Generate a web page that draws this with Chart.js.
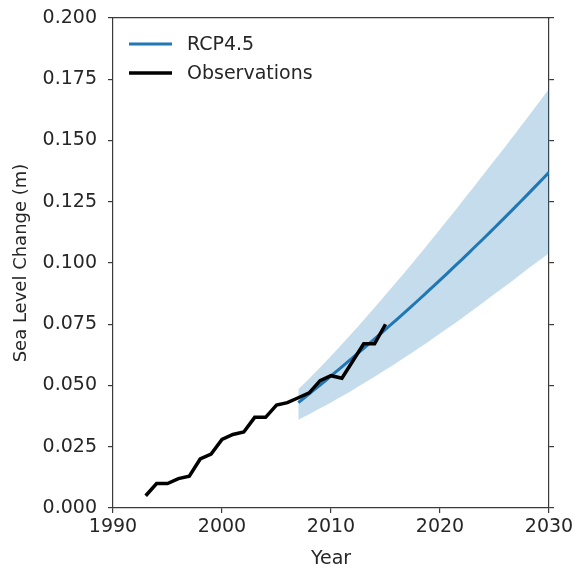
<!DOCTYPE html>
<html>
<head>
<meta charset="utf-8">
<script src="https://cdn.jsdelivr.net/npm/chart.js@4"></script>
<style>
  html, body { margin: 0; padding: 0; background: #fff; }
  #wrap { width: 574px; height: 570px; }
</style>
</head>
<body>
<div id="wrap"><canvas id="slrChart" width="574" height="570"></canvas></div>
<script>
// observed sea level change (m), annual
const obsYears = [1993, 1994, 1995, 1996, 1997, 1998, 1999, 2000, 2001, 2002, 2003, 2004,
  2005, 2006, 2007, 2008, 2009, 2010, 2011, 2012, 2013, 2014, 2015];
const obsValues = [0.005, 0.010, 0.010, 0.012, 0.013, 0.020, 0.022, 0.028, 0.030, 0.031, 0.037, 0.037,
  0.042, 0.043, 0.045, 0.047, 0.052, 0.054, 0.053, 0.060, 0.067, 0.067, 0.075];

// RCP4.5 projection: median and spread
const rcpYears = [2007, 2008, 2009, 2010, 2011, 2012, 2013, 2014, 2015, 2016, 2017, 2018,
  2019, 2020, 2021, 2022, 2023, 2024, 2025, 2026, 2027, 2028, 2029, 2030];
const rcpMean = [0.0430, 0.0466, 0.0502, 0.0539, 0.0576, 0.0614, 0.0652, 0.0690, 0.0729, 0.0768,
  0.0808, 0.0848, 0.0889, 0.0930, 0.0972, 0.1014, 0.1057, 0.1100, 0.1144, 0.1188, 0.1233, 0.1278,
  0.1324, 0.1370];
const rcpUpper = [0.0485, 0.0528, 0.0573, 0.0620, 0.0668, 0.0717, 0.0767, 0.0818, 0.0870, 0.0922,
  0.0975, 0.1029, 0.1083, 0.1138, 0.1193, 0.1249, 0.1305, 0.1362, 0.1419, 0.1476, 0.1534, 0.1592,
  0.1651, 0.1710];
const rcpLower = [0.0360, 0.0383, 0.0407, 0.0431, 0.0456, 0.0482, 0.0509, 0.0536, 0.0564, 0.0592,
  0.0621, 0.0651, 0.0681, 0.0712, 0.0743, 0.0775, 0.0807, 0.0840, 0.0873, 0.0906, 0.0940, 0.0974,
  0.1007, 0.1040];

const xTicks = [1990, 2000, 2010, 2020, 2030];
const yTicks = [0, 0.025, 0.05, 0.075, 0.1, 0.125, 0.15, 0.175, 0.2];

const pts = (xs, ys) => xs.map((x, i) => ({ x: x, y: ys[i] }));

const FONT = 'DejaVu Sans';
const ink = '#262626';
const spine = '#3a3a3a';
const blue = '#1f77b4';

// keep edge tick labels from shrinking the plot area
const noPad = s => { s.paddingLeft = 0; s.paddingRight = 0; s.paddingTop = 0; s.paddingBottom = 0; };

// legend drawn inside the axes, top-left, like matplotlib
const innerLegend = {
  id: 'innerLegend',
  afterDraw(chart) {
    const ctx = chart.ctx;
    const items = chart.data.datasets.filter(d => d.legendRank !== undefined)
      .sort((a, b) => a.legendRank - b.legendRank);
    ctx.save();
    ctx.font = '19px "' + FONT + '"';
    ctx.textBaseline = 'middle';
    items.forEach((d, i) => {
      const y = 44 + i * 29;
      ctx.strokeStyle = d.borderColor;
      ctx.lineWidth = d.borderWidth;
      ctx.beginPath();
      ctx.moveTo(129, y);
      ctx.lineTo(172, y);
      ctx.stroke();
      ctx.fillStyle = ink;
      ctx.fillText(d.label, 187, y + 1);
    });
    ctx.restore();
  }
};

const ctx = document.getElementById('slrChart').getContext('2d');
new Chart(ctx, {
  type: 'line',
  data: {
    datasets: [{
      label: 'Observations',
      legendRank: 1,
      data: pts(obsYears, obsValues),
      borderColor: '#000',
      borderWidth: 3.5,
      pointRadius: 0,
      fill: false
    }, {
      label: 'RCP4.5',
      legendRank: 0,
      data: pts(rcpYears, rcpMean),
      borderColor: blue,
      borderWidth: 3,
      pointRadius: 0,
      cubicInterpolationMode: 'monotone',
      fill: false
    }, {
      label: 'upper',
      data: pts(rcpYears, rcpUpper),
      borderWidth: 0,
      borderColor: 'rgba(0,0,0,0)',
      backgroundColor: 'rgba(31,119,180,0.26)',
      pointRadius: 0,
      cubicInterpolationMode: 'monotone',
      fill: '+1'
    }, {
      label: 'lower',
      data: pts(rcpYears, rcpLower),
      borderWidth: 0,
      borderColor: 'rgba(0,0,0,0)',
      pointRadius: 0,
      cubicInterpolationMode: 'monotone',
      fill: false
    }]
  },
  options: {
    responsive: false,
    animation: false,
    layout: { padding: { left: 0, right: 0, top: 18, bottom: 0 } },
    plugins: { legend: { display: false }, tooltip: { enabled: false } },
    scales: {
      x: {
        type: 'linear',
        position: 'bottom',
        min: 1990, max: 2030,
        afterBuildTicks: s => { s.ticks = xTicks.map(v => ({ value: v })); },
        afterFit: s => { s.height = 62; noPad(s); },
        ticks: { color: ink, font: { family: FONT, size: 19 }, padding: 3, maxRotation: 0,
          callback: v => String(v) },
        grid: { drawOnChartArea: false, tickLength: 5, color: spine, lineWidth: 1.2 },
        border: { color: spine, width: 1.2 },
        title: { display: true, text: 'Year', color: ink, font: { family: FONT, size: 19 },
          padding: { top: 0, bottom: 0 } }
      },
      xTop: {
        type: 'linear',
        position: 'top',
        min: 1990, max: 2030,
        afterFit: s => { s.height = 0; noPad(s); },
        ticks: { display: false },
        grid: { display: false },
        border: { color: spine, width: 1.2 }
      },
      y: {
        position: 'left',
        min: 0, max: 0.2,
        afterBuildTicks: s => { s.ticks = yTicks.map(v => ({ value: v })); },
        afterFit: s => { s.width = 113; noPad(s); },
        ticks: { color: ink, font: { family: FONT, size: 19 }, padding: 11,
          callback: v => v.toFixed(3) },
        grid: { drawOnChartArea: false, tickLength: 5, color: spine, lineWidth: 1.2 },
        border: { color: spine, width: 1.2 },
        title: { display: true, text: 'Sea Level Change (m)', color: ink,
          font: { family: FONT, size: 18 }, padding: { top: 11, bottom: 0 } }
      },
      yRight: {
        position: 'right',
        min: 0, max: 0.2,
        afterBuildTicks: s => { s.ticks = yTicks.map(v => ({ value: v })); },
        afterFit: s => { s.width = 25; noPad(s); },
        ticks: { display: false },
        grid: { drawOnChartArea: false, tickLength: 5, color: spine, lineWidth: 1.2 },
        border: { color: spine, width: 1.2 }
      }
    }
  },
  plugins: [innerLegend]
});
</script>
</body>
</html>
